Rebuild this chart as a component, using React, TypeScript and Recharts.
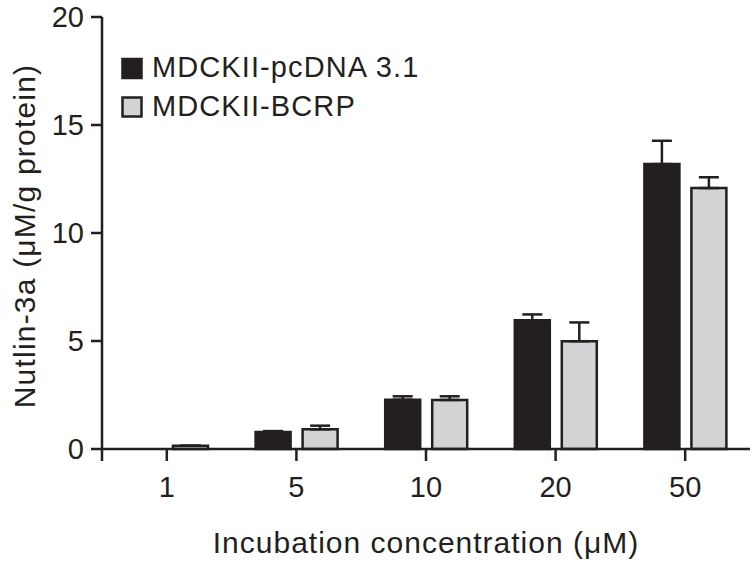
import React from "react";
import * as R from "recharts";
import { BarChart, Bar, XAxis, YAxis, ErrorBar, Legend } from "recharts";

const categories = ["1", "5", "10", "20", "50"];
const seriesNames = ["MDCKII-pcDNA 3.1", "MDCKII-BCRP"];
const pcdnaMean = [0, 0.79, 2.28, 5.96, 13.19];
const pcdnaErr = [0, 0.04, 0.16, 0.27, 1.08];
const bcrpMean = [0.15, 0.91, 2.27, 4.99, 12.08];
const bcrpErr = [0, 0.17, 0.17, 0.87, 0.5];
const yTicks = [0, 5, 10, 15, 20];

const INK = "#231f20";
const GREY = "#d1d3d4";
const FONT = "'Liberation Sans', Arial, Helvetica, sans-serif";

// upper-only error bars: [below, above]
const data = categories.map((c, i) => ({
  cat: c,
  pcdna: pcdnaMean[i],
  pcdnaE: [0, pcdnaErr[i]],
  bcrp: bcrpMean[i],
  bcrpE: [0, bcrpErr[i]],
}));

// GraphPad-style: y axis line runs down past zero like an x tick
const AxisFoot = () => {
  const hook = (R as any).usePlotArea;
  const area = hook ? hook() : null;
  if (!area) return null;
  const y = area.y + area.height;
  return <line x1={area.x} x2={area.x} y1={y} y2={y + 12} stroke={INK} strokeWidth={2.5} />;
};

const LegendBox = (props: any) => {
  const items = [...(props.payload || [])].sort(
    (a: any, b: any) => seriesNames.indexOf(a.value) - seriesNames.indexOf(b.value)
  );
  return (
    <svg width={320} height={80} style={{ display: "block", overflow: "visible" }}>
      {items.map((it: any, i: number) => (
        <g key={it.value}>
          <rect
            x={3.5}
            y={9 + i * 38.5}
            width={19}
            height={19}
            fill={it.color}
            stroke={INK}
            strokeWidth={2.5}
          />
          <text
            x={33}
            y={27 + i * 38.5}
            fontSize={29}
            letterSpacing={1.1}
            fontFamily={FONT}
            fill={INK}
          >
            {it.value}
          </text>
        </g>
      ))}
    </svg>
  );
};

const YTitle = (props: any) => {
  const vb = props.viewBox || {};
  const cy = (vb.y ?? 17) + (vb.height ?? 432) / 2 + 3;
  return (
    <text
      x={35}
      y={cy}
      transform={`rotate(-90, 35, ${cy})`}
      textAnchor="middle"
      fontSize={30}
      letterSpacing={1.2}
      fontFamily={FONT}
      fill={INK}
    >
      Nutlin-3a (μM/g protein)
    </text>
  );
};

const App = () => {
  return (
    <div style={{ position: "absolute", left: 0, top: 0, background: "#fff" }}>
      <BarChart
        width={754}
        height={562}
        data={data}
        margin={{ top: 17, right: 4, left: 0, bottom: 0 }}
        barSize={35}
        barGap={12}
      >
        <XAxis
          dataKey="cat"
          height={113}
          tickSize={12}
          tickMargin={15}
          axisLine={{ stroke: INK, strokeWidth: 2.5 }}
          tickLine={{ stroke: INK, strokeWidth: 2.5 }}
          tick={{ fill: INK, fontSize: 29, fontFamily: FONT }}
          interval={0}
          label={{
            value: "Incubation concentration (μM)",
            position: "insideBottom",
            offset: 9,
            fill: INK,
            fontSize: 30,
            fontFamily: FONT,
            letterSpacing: 1,
          }}
        />
        <YAxis
          domain={[0, 20]}
          ticks={yTicks}
          width={102}
          tickSize={11}
          tickMargin={7}
          interval={0}
          axisLine={{ stroke: INK, strokeWidth: 2.5 }}
          tickLine={{ stroke: INK, strokeWidth: 2.5 }}
          tick={{ fill: INK, fontSize: 29, fontFamily: FONT }}
          label={{ content: YTitle }}
        />
        <Legend
          layout="vertical"
          align="center"
          verticalAlign="middle"
          content={LegendBox}
          wrapperStyle={{ left: 119, top: 50, width: 320, height: 80 }}
        />
        <Bar
          dataKey="pcdna"
          name={seriesNames[0]}
          fill={INK}
          stroke={INK}
          strokeWidth={2.5}
          isAnimationActive={false}
        >
          <ErrorBar dataKey="pcdnaE" width={10} stroke={INK} strokeWidth={2.5} isAnimationActive={false} />
        </Bar>
        <Bar
          dataKey="bcrp"
          name={seriesNames[1]}
          fill={GREY}
          stroke={INK}
          strokeWidth={2.5}
          isAnimationActive={false}
        >
          <ErrorBar dataKey="bcrpE" width={10} stroke={INK} strokeWidth={2.5} isAnimationActive={false} />
        </Bar>
        <AxisFoot />
      </BarChart>
    </div>
  );
};

export default App;
